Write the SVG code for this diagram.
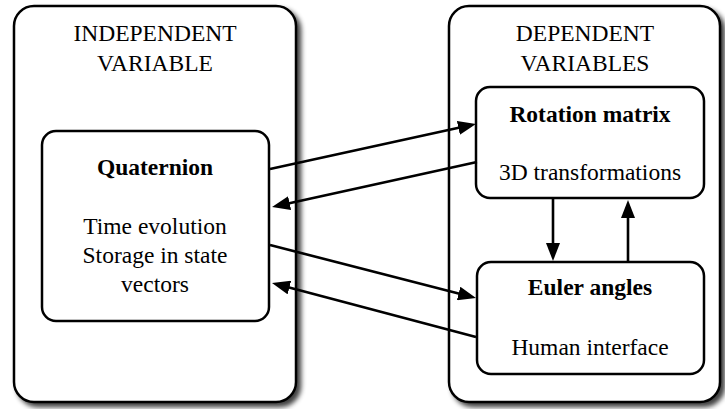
<svg xmlns="http://www.w3.org/2000/svg" width="725" height="409" viewBox="0 0 725 409" font-family="'Liberation Serif', 'Times New Roman', Times, 'DejaVu Serif', serif">
  <defs>
    <filter id="shadow" x="-10%" y="-10%" width="130%" height="130%">
      <feGaussianBlur in="SourceAlpha" stdDeviation="2.5"/>
      <feOffset dx="4" dy="4" result="b"/>
      <feComponentTransfer><feFuncA type="linear" slope="0.75"/></feComponentTransfer>
      <feMerge><feMergeNode/><feMergeNode in="SourceGraphic"/></feMerge>
    </filter>
    <marker id="arrow" markerUnits="userSpaceOnUse" markerWidth="18" markerHeight="14" viewBox="0 0 18 14" refX="12" refY="7" orient="auto">
      <path d="M0,0 L18,7 L0,14 z" fill="#000"/>
    </marker>
  </defs>
  <style>
    .outer { fill: #fff; stroke: #000; stroke-width: 2.5; filter: url(#shadow); }
    .inner { fill: #fff; stroke: #000; stroke-width: 2.5; }
    .t { font-size: 23.5px; text-anchor: middle; fill: #000; }
    .b { font-weight: bold; }
    .edge { stroke: #000; stroke-width: 2.6; fill: none; marker-end: url(#arrow); }
  </style>
  <rect width="725" height="409" fill="#fff"/>

  <g id="independent">
    <rect class="outer" x="14" y="6" width="282" height="396" rx="20" ry="20"/>
    <text class="t" x="155" y="41">INDEPENDENT</text>
    <text class="t" x="155" y="71">VARIABLE</text>
  </g>

  <g id="dependent">
    <rect class="outer" x="449" y="6" width="271" height="396" rx="20" ry="20"/>
    <text class="t" x="585" y="41">DEPENDENT</text>
    <text class="t" x="585" y="71">VARIABLES</text>
  </g>

  <g id="quaternion">
    <rect class="inner" x="42" y="131" width="227" height="190" rx="14" ry="14"/>
    <text class="t b" x="155" y="175">Quaternion</text>
    <text class="t" x="155" y="234">Time evolution</text>
    <text class="t" x="155" y="263">Storage in state</text>
    <text class="t" x="155" y="292">vectors</text>
  </g>

  <g id="rotation">
    <rect class="inner" x="476" y="87" width="228" height="111" rx="14" ry="14"/>
    <text class="t b" x="590" y="122">Rotation matrix</text>
    <text class="t" x="590" y="180">3D transformations</text>
  </g>

  <g id="euler">
    <rect class="inner" x="477" y="262" width="227" height="112" rx="14" ry="14"/>
    <text class="t b" x="590" y="295">Euler angles</text>
    <text class="t" x="590" y="355">Human interface</text>
  </g>

  <g id="connectors">
    <line class="edge" x1="270" y1="169" x2="470.1" y2="125.3"/>
    <line class="edge" x1="477" y1="162" x2="277.9" y2="205.7"/>
    <line class="edge" x1="270" y1="245" x2="470.2" y2="296.5"/>
    <line class="edge" x1="476" y1="337" x2="277.8" y2="284.5"/>
    <line class="edge" x1="553" y1="199" x2="553" y2="255"/>
    <line class="edge" x1="628" y1="262" x2="628" y2="206"/>
  </g>
</svg>
